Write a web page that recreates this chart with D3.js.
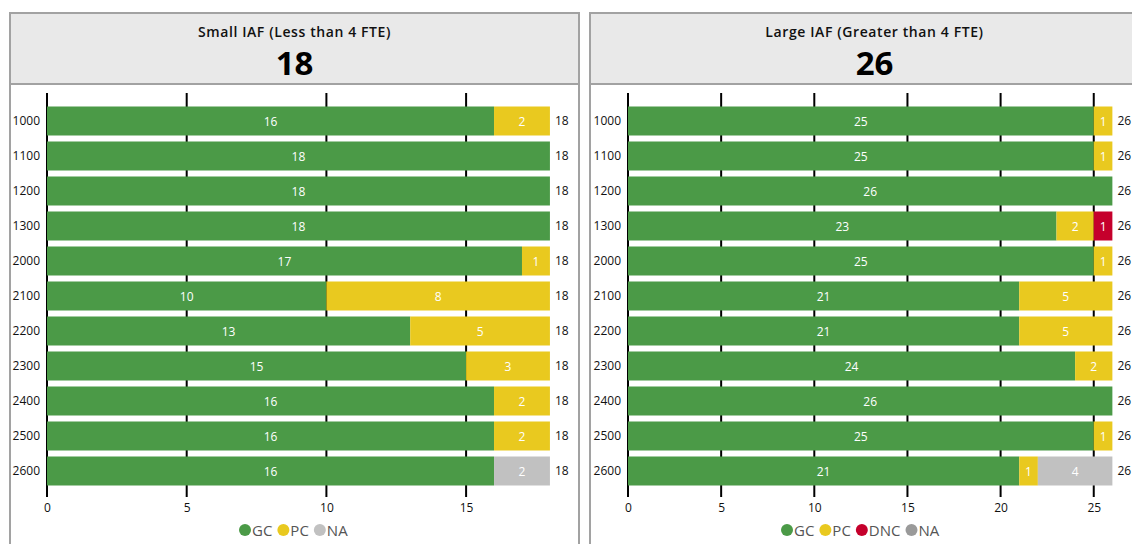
<!DOCTYPE html>
<html><head><meta charset="utf-8">
<script src="https://cdn.jsdelivr.net/npm/d3@7"></script>
<style>
body{margin:0;background:#fff;}
svg{display:block;font-family:"Open Sans",Lato,sans-serif;}
</style></head>
<body>
<svg id="chart" width="1132" height="544"></svg>
<script>
const categories = ["1000","1100","1200","1300","2000","2100","2200","2300","2400","2500","2600"];
const seriesKeys = ["GC","PC","DNC","NA"];
const smallTitle = "Small IAF (Less than 4 FTE)";
const smallCount = 18;
const smallGC  = [16,18,18,18,17,10,13,15,16,16,16];
const smallPC  = [2,0,0,0,1,8,5,3,2,2,0];
const smallDNC = [0,0,0,0,0,0,0,0,0,0,0];
const smallNA  = [0,0,0,0,0,0,0,0,0,0,2];
const smallTicks = [0,5,10,15];
const smallLegend = ["GC","PC","NA"];
const largeTitle = "Large IAF (Greater than 4 FTE)";
const largeCount = 26;
const largeGC  = [25,25,26,23,25,21,21,24,26,25,21];
const largePC  = [1,1,0,2,1,5,5,2,0,1,1];
const largeDNC = [0,0,0,1,0,0,0,0,0,0,0];
const largeNA  = [0,0,0,0,0,0,0,0,0,0,4];
const largeTicks = [0,5,10,15,20,25];
const largeLegend = ["GC","PC","DNC","NA"];

const colors = {GC:"#4b9a47",PC:"#e9c91f",DNC:"#c5002c",NA:"#c1c1c1"};
const svg = d3.select("#chart");

function panel(o){
  const g = svg.append("g");
  const x0 = o.left, w = 569;
  g.append("rect").attr("x",x0).attr("y",13).attr("width",w).attr("height",71)
    .attr("fill","#e9e9e9").attr("stroke","#a2a2a2").attr("stroke-width",2);
  g.append("rect").attr("x",x0).attr("y",84).attr("width",w).attr("height",500)
    .attr("fill","#fff").attr("stroke","#a2a2a2").attr("stroke-width",2);
  g.append("text").attr("x",x0+w/2).attr("y",37).attr("text-anchor","middle")
    .attr("font-size",14).attr("font-weight",600).attr("letter-spacing",0.6)
    .attr("fill","#111").text(o.title);
  g.append("text").attr("x",x0+w/2).attr("y",74.5).attr("text-anchor","middle")
    .attr("font-size",33).attr("font-weight",700).attr("fill","#000").text(o.count);

  const x = d3.scaleLinear().domain([0,o.count]).range([o.axisX, o.axisX + o.unit*o.count]);
  const y = d3.scaleBand().domain(categories).range([103.5,488.5]).paddingInner(6/35).paddingOuter(3/35);

  g.append("g").selectAll("line").data(o.ticks).join("line")
    .attr("x1",d=>x(d)).attr("x2",d=>x(d)).attr("y1",93).attr("y2",497)
    .attr("stroke","#000").attr("stroke-width",2);
  const axis = d3.axisBottom(x).tickValues(o.ticks).tickSize(0).tickPadding(0);
  const ag = g.append("g").attr("transform","translate(0,512)").call(axis);
  ag.select(".domain").remove();
  ag.selectAll("text").attr("font-size",12).attr("fill","#111")
    .attr("font-family","'Open Sans',sans-serif").attr("dy","0");

  const rows = categories.map((c,i)=>({cat:c,GC:o.GC[i],PC:o.PC[i],DNC:o.DNC[i],NA:o.NA[i]}));
  const stacked = d3.stack().keys(seriesKeys)(rows);
  stacked.forEach(s=>{
    const sg = g.append("g");
    const segs = s.filter(d=>d[1]>d[0]);
    sg.selectAll("rect").data(segs).join("rect")
      .attr("x",d=>x(d[0])).attr("width",d=>x(d[1])-x(d[0]))
      .attr("y",d=>y(d.data.cat)).attr("height",y.bandwidth())
      .attr("fill",colors[s.key]);
    sg.selectAll("text").data(segs).join("text")
      .attr("x",d=>(x(d[0])+x(d[1]))/2).attr("y",d=>y(d.data.cat)+y.bandwidth()/2+4.5)
      .attr("text-anchor","middle").attr("font-size",12).attr("fill","#fff")
      .text(d=>d[1]-d[0]);
  });
  g.append("g").selectAll("text").data(categories).join("text")
    .attr("x",o.axisX-7).attr("y",d=>y(d)+y.bandwidth()/2+4).attr("text-anchor","end")
    .attr("font-size",12).attr("fill","#111").text(d=>d);
  g.append("g").selectAll("text").data(rows).join("text")
    .attr("x",d=>x(d.GC+d.PC+d.DNC+d.NA)+5).attr("y",d=>y(d.cat)+y.bandwidth()/2+4)
    .attr("font-size",12).attr("fill","#111").text(d=>d.GC+d.PC+d.DNC+d.NA);
  const lg = g.append("g").attr("transform",`translate(${o.legendX},530)`);
  let cx = 0;
  o.legend.forEach(k=>{
    lg.append("circle").attr("cx",cx+6).attr("cy",0).attr("r",6)
      .attr("fill", k==="NA" ? o.naLegend : colors[k]);
    const t = lg.append("text").attr("x",cx+13).attr("y",5.5).attr("font-size",15)
      .attr("fill","#555").text(k);
    cx += 13 + t.node().getComputedTextLength() + 5;
  });
}

panel({left:10,title:smallTitle,count:smallCount,GC:smallGC,PC:smallPC,DNC:smallDNC,NA:smallNA,
  ticks:smallTicks,legend:smallLegend,axisX:47,unit:27.94,legendX:239,naLegend:"#c1c1c1"});
panel({left:590,title:largeTitle,count:largeCount,GC:largeGC,PC:largePC,DNC:largeDNC,NA:largeNA,
  ticks:largeTicks,legend:largeLegend,axisX:628,unit:18.63,legendX:781,naLegend:"#9a9a9a"});
</script>
</body></html>
